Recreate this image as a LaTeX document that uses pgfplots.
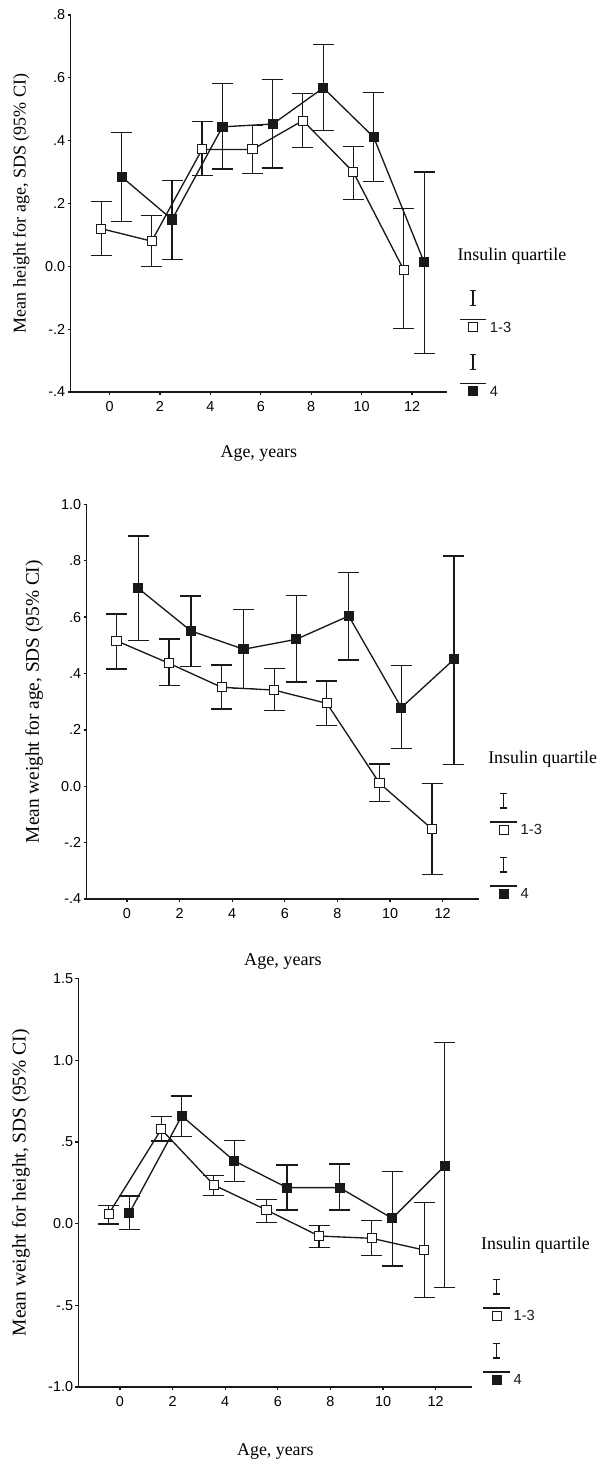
\documentclass[border=0pt]{standalone}
\usepackage{fontspec}
\setmainfont{Liberation Serif}
\setsansfont{Liberation Sans}
\usepackage{pgfplots}
\pgfplotsset{compat=1.18}

% marker styles (1 px of the reference = 0.75pt)
\tikzset{
  sopen/.style={black!90, line width=1pt, mark=square*, mark size=3.4pt,
    mark options={fill=white, line width=0.75pt}},
  sfill/.style={black!90, line width=1pt, mark=square*, mark size=3.4pt,
    mark options={fill=black!90, line width=0.75pt}},
}

\pgfplotsset{
  legtitle/.style={legend image code/.code={
    \node[anchor=base west, inner sep=0pt, draw=none, fill=none, font=\fontsize{13.4}{16}\selectfont] at (-11.6pt,0pt) {Insulin quartile};
    \path[draw=none, fill=none] (-12pt,-20pt) rectangle (80pt,12pt);
  }},
  legopen/.style={legend image code/.code={
    \draw[line width=0.9pt, black!90] (-10pt,6pt) -- (10pt,6pt);
    \draw[line width=0.9pt, black!90] (-2.6pt,16.5pt) -- (2.6pt,16.5pt) (0pt,16.5pt) -- (0pt,27.5pt) (-2.6pt,27.5pt) -- (2.6pt,27.5pt);
    \draw[sopen] plot coordinates {(0pt,0pt)};
    \node[anchor=base west, inner sep=0pt, draw=none, fill=none, font=\fontsize{11}{13}\sffamily] at (12.75pt,-3.5pt) {1-3};
    \path[draw=none, fill=none] (-12pt,-18pt) rectangle (80pt,30pt);
  }},
  legfill/.style={legend image code/.code={
    \draw[line width=0.9pt, black!90] (-10pt,6pt) -- (10pt,6pt);
    \draw[line width=0.9pt, black!90] (-2.6pt,16.5pt) -- (2.6pt,16.5pt) (0pt,16.5pt) -- (0pt,27.5pt) (-2.6pt,27.5pt) -- (2.6pt,27.5pt);
    \draw[sfill] plot coordinates {(0pt,0pt)};
    \node[anchor=base west, inner sep=0pt, draw=none, fill=none, font=\fontsize{11}{13}\sffamily] at (12.75pt,-3.5pt) {4};
    \path[draw=none, fill=none] (-12pt,-18pt) rectangle (80pt,30pt);
  }},
  insulin/.style={
    scale only axis,
    anchor=south west,
    axis x line*=bottom, axis y line*=left,
    axis line style={-, line width=1pt, black!90},
    tick align=outside, major tick length=2.25pt,
    tick style={line width=1pt, black!90},
    xtick={0,2,4,6,8,10,12},
    xticklabels={0,2,4,6,8,10,12},
    ticklabel style={font=\fontsize{10.8}{12}\sffamily, inner sep=0pt, black},
    xticklabel style={yshift=-4.5pt},
    yticklabel style={xshift=-1.5pt},
    xmax=13.4,
    xlabel={Age, years},
    error bars/y dir=both, error bars/y explicit,
    error bars/error mark=|,
    error bars/error bar style={line width=0.9pt, black!90},
    error bars/error mark options={line width=0.9pt, mark size=7.9pt, black!90},
    legend style={draw=none, fill=none, inner sep=0pt, outer sep=0pt,
      row sep=0pt, column sep=0pt, nodes={inner sep=0pt, outer sep=0pt, draw=none},
      anchor=north west},
    legend cell align=left,
  },
}

\begin{document}
\begin{tikzpicture}
\useasboundingbox (0pt,0pt) rectangle (454.5pt,-1097.25pt);

% ---------- height for age ----------
\begin{axis}[insulin,
  at={(52.875pt,-294pt)}, width=282.6pt, height=282.75pt,
  xmin=-1.55, ymin=-0.4, ymax=0.8,
  ytick={-0.4,-0.2,0,0.2,0.4,0.6,0.8},
  yticklabels={-.4,-.2,0.0,.2,.4,.6,.8},
  ylabel={Mean height for age, SDS (95\% CI)},
  ylabel style={at={(axis description cs:-0.1534,0.5)}, anchor=north, inner sep=0pt, font=\fontsize{13.5}{16}\selectfont},
  xlabel style={at={(axis description cs:0.5,-0.1406)}, anchor=north, inner sep=0pt, font=\fontsize{13.4}{16}\selectfont},
  legend style={at={(1.0257,0.3905)}},
]
\addlegendimage{legtitle}\addlegendentry{\hbox{}}
\addplot[sopen, legopen] table[x=x, y=y, y error plus=ep, y error minus=em, row sep=\\] {
x y ep em \\
-0.33 0.120 0.087 0.085 \\
1.67 0.080 0.081 0.080 \\
3.67 0.372 0.088 0.083 \\
5.67 0.372 0.076 0.077 \\
7.67 0.464 0.085 0.087 \\
9.67 0.300 0.082 0.088 \\
11.67 -0.011 0.195 0.187 \\
};
\addlegendentry{\hbox{}}
\addplot[sfill, legfill] table[x=x, y=y, y error plus=ep, y error minus=em, row sep=\\] {
x y ep em \\
0.48 0.285 0.142 0.142 \\
2.48 0.149 0.124 0.128 \\
4.48 0.444 0.137 0.134 \\
6.48 0.453 0.141 0.140 \\
8.48 0.568 0.138 0.136 \\
10.48 0.411 0.142 0.140 \\
12.48 0.013 0.287 0.291 \\
};
\addlegendentry{\hbox{}}
\end{axis}

% ---------- weight for age ----------
\begin{axis}[insulin,
  at={(64.875pt,-674.25pt)}, width=294.7pt, height=296pt,
  xmin=-1.54, ymin=-0.4, ymax=1.0,
  ytick={-0.4,-0.2,0,0.2,0.4,0.6,0.8,1.0},
  yticklabels={-.4,-.2,0.0,.2,.4,.6,.8,1.0},
  ylabel={Mean weight for age, SDS (95\% CI)},
  ylabel style={at={(axis description cs:-0.1565,0.5)}, anchor=north, inner sep=0pt, font=\fontsize{14.5}{17}\selectfont},
  xlabel style={at={(axis description cs:0.5,-0.1368)}, anchor=north, inner sep=0pt, font=\fontsize{13.6}{16}\selectfont},
  legend style={at={(1.0211,0.3843)}},
]
\addlegendimage{legtitle}\addlegendentry{\hbox{}}
\addplot[sopen, legopen] table[x=x, y=y, y error plus=ep, y error minus=em, row sep=\\] {
x y ep em \\
-0.40 0.516 0.095 0.100 \\
1.60 0.436 0.086 0.079 \\
3.60 0.351 0.079 0.077 \\
5.60 0.341 0.076 0.071 \\
7.60 0.294 0.079 0.079 \\
9.60 0.011 0.068 0.066 \\
11.60 -0.152 0.163 0.160 \\
};
\addlegendentry{\hbox{}}
\addplot[sfill, legfill] table[x=x, y=y, y error plus=ep, y error minus=em, row sep=\\] {
x y ep em \\
0.43 0.702 0.186 0.186 \\
2.43 0.551 0.124 0.127 \\
4.43 0.486 0.142 0.139 \\
6.43 0.521 0.156 0.151 \\
8.43 0.604 0.153 0.156 \\
10.43 0.279 0.149 0.146 \\
12.43 0.450 0.367 0.372 \\
};
\addlegendentry{\hbox{}}
\end{axis}

% ---------- weight for height ----------
\begin{axis}[insulin,
  at={(58.725pt,-1040.25pt)}, width=295.6pt, height=306.4pt,
  xmin=-1.585, ymin=-1.0, ymax=1.5,
  ytick={-1,-0.5,0,0.5,1,1.5},
  yticklabels={-1.0,-.5,0.0,.5,1.0,1.5},
  ylabel={Mean weight for height, SDS (95\% CI)},
  ylabel style={at={(axis description cs:-0.169,0.5)}, anchor=north, inner sep=0pt, font=\fontsize{14.6}{17}\selectfont},
  xlabel style={at={(axis description cs:0.5,-0.137)}, anchor=north, inner sep=0pt, font=\fontsize{13.4}{16}\selectfont},
  legend style={at={(1.0208,0.3763)}},
]
\addlegendimage{legtitle}\addlegendentry{\hbox{}}
\addplot[sopen, legopen] table[x=x, y=y, y error plus=ep, y error minus=em, row sep=\\] {
x y ep em \\
-0.43 0.059 0.051 0.061 \\
1.57 0.577 0.077 0.072 \\
3.57 0.236 0.057 0.065 \\
5.57 0.083 0.066 0.075 \\
7.57 -0.076 0.063 0.069 \\
9.57 -0.090 0.108 0.106 \\
11.57 -0.162 0.290 0.289 \\
};
\addlegendentry{\hbox{}}
\addplot[sfill, legfill] table[x=x, y=y, y error plus=ep, y error minus=em, row sep=\\] {
x y ep em \\
0.35 0.063 0.106 0.098 \\
2.35 0.659 0.122 0.127 \\
4.35 0.383 0.124 0.126 \\
6.35 0.220 0.139 0.137 \\
8.35 0.220 0.145 0.137 \\
10.35 0.032 0.286 0.292 \\
12.35 0.354 0.753 0.746 \\
};
\addlegendentry{\hbox{}}
\end{axis}
\end{tikzpicture}
\end{document}
